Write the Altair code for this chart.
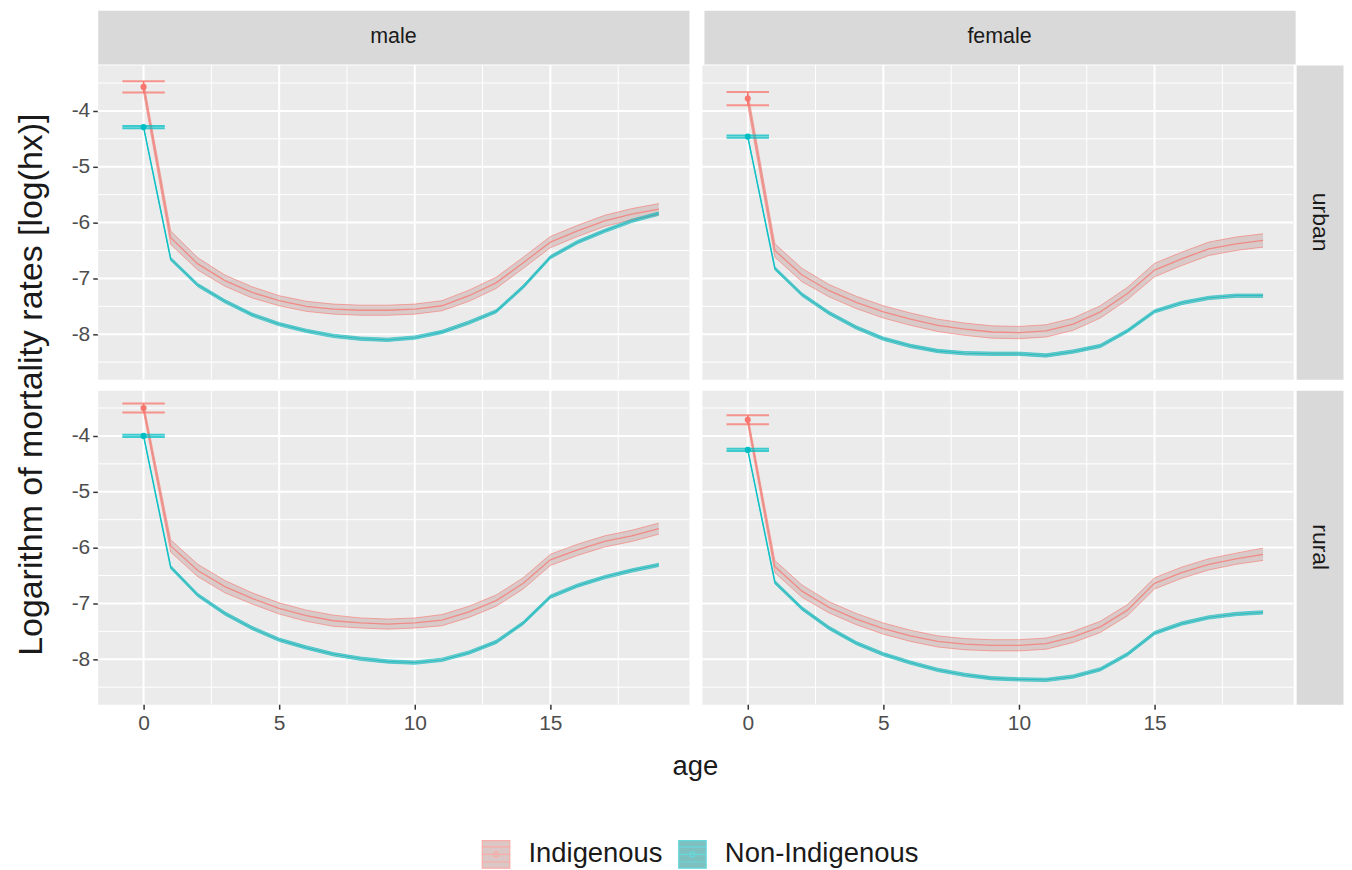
import altair as alt
import pandas as pd

# ---------------- data ----------------
AGES = list(range(20))
SEXES = ["male", "female"]
AREAS = ["urban", "rural"]
GROUPS = ["Indigenous", "Non-Indigenous"]

# mean log(hx), ages 0..19
MALE_URBAN_IND = [-3.57, -6.27, -6.74, -7.04, -7.25, -7.40, -7.50, -7.55, -7.57, -7.57,
                  -7.55, -7.49, -7.31, -7.08, -6.72, -6.35, -6.15, -5.97, -5.85, -5.76]
MALE_URBAN_NON = [-4.29, -6.65, -7.12, -7.41, -7.65, -7.82, -7.94, -8.03, -8.08, -8.10,
                  -8.06, -7.96, -7.79, -7.59, -7.15, -6.62, -6.35, -6.15, -5.97, -5.84]
FEMALE_URBAN_IND = [-3.78, -6.50, -6.94, -7.22, -7.43, -7.60, -7.73, -7.84, -7.91, -7.96,
                    -7.97, -7.94, -7.82, -7.60, -7.27, -6.85, -6.65, -6.47, -6.38, -6.32]
FEMALE_URBAN_NON = [-4.46, -6.82, -7.29, -7.62, -7.88, -8.08, -8.21, -8.30, -8.34, -8.35,
                    -8.35, -8.38, -8.31, -8.21, -7.94, -7.59, -7.44, -7.35, -7.31, -7.31]
MALE_RURAL_IND = [-3.50, -5.97, -6.41, -6.70, -6.91, -7.09, -7.22, -7.31, -7.35, -7.37,
                  -7.35, -7.30, -7.15, -6.95, -6.64, -6.22, -6.04, -5.89, -5.79, -5.66]
MALE_RURAL_NON = [-4.00, -6.35, -6.85, -7.18, -7.44, -7.65, -7.79, -7.91, -7.99, -8.04,
                  -8.06, -8.01, -7.88, -7.69, -7.35, -6.88, -6.68, -6.53, -6.41, -6.31]
FEMALE_RURAL_IND = [-3.71, -6.34, -6.78, -7.07, -7.28, -7.45, -7.58, -7.68, -7.73, -7.75,
                    -7.75, -7.72, -7.60, -7.42, -7.12, -6.64, -6.45, -6.30, -6.20, -6.12]
FEMALE_RURAL_NON = [-4.25, -6.62, -7.09, -7.44, -7.71, -7.91, -8.06, -8.19, -8.28, -8.34,
                    -8.36, -8.37, -8.31, -8.18, -7.91, -7.53, -7.36, -7.25, -7.19, -7.16]

# half width of the confidence band, ages 0..19
MALE_URBAN_IND_HW = [0.10, 0.12, 0.11, 0.10, 0.10, 0.09, 0.09, 0.09, 0.09, 0.09,
                     0.09, 0.09, 0.10, 0.10, 0.10, 0.10, 0.10, 0.10, 0.10, 0.10]
FEMALE_URBAN_IND_HW = [0.12, 0.12, 0.12, 0.11, 0.11, 0.11, 0.11, 0.11, 0.11, 0.11,
                       0.11, 0.11, 0.11, 0.11, 0.11, 0.12, 0.12, 0.12, 0.12, 0.12]
MALE_RURAL_IND_HW = [0.08, 0.11, 0.11, 0.11, 0.10, 0.10, 0.10, 0.10, 0.09, 0.09,
                     0.09, 0.10, 0.10, 0.10, 0.10, 0.10, 0.10, 0.10, 0.10, 0.10]
FEMALE_RURAL_IND_HW = [0.08, 0.11, 0.11, 0.10, 0.10, 0.10, 0.10, 0.10, 0.10, 0.10,
                       0.10, 0.10, 0.10, 0.10, 0.10, 0.10, 0.10, 0.10, 0.10, 0.11]
NON_HW = [0.02, 0.03, 0.03, 0.03, 0.03, 0.03, 0.03, 0.03, 0.03, 0.03,
          0.03, 0.03, 0.03, 0.03, 0.03, 0.03, 0.03, 0.03, 0.03, 0.03]

X_TICKS = [0, 5, 10, 15]
X_MINOR = [2.5, 7.5, 12.5, 17.5]
Y_TICKS = [-8, -7, -6, -5, -4]
Y_MINOR = [-8.5, -7.5, -6.5, -5.5, -4.5, -3.5]
YTITLE = "Logarithm of mortality rates [log(hx)]"
XTITLE = "age"

SERIES = {
    ("male", "urban"): (MALE_URBAN_IND, MALE_URBAN_IND_HW, MALE_URBAN_NON, NON_HW),
    ("female", "urban"): (FEMALE_URBAN_IND, FEMALE_URBAN_IND_HW, FEMALE_URBAN_NON, NON_HW),
    ("male", "rural"): (MALE_RURAL_IND, MALE_RURAL_IND_HW, MALE_RURAL_NON, NON_HW),
    ("female", "rural"): (FEMALE_RURAL_IND, FEMALE_RURAL_IND_HW, FEMALE_RURAL_NON, NON_HW),
}

rows = []
for (sex, area), (ind, ind_hw, non, non_hw) in SERIES.items():
    for g, m, hw in ((GROUPS[0], ind, ind_hw), (GROUPS[1], non, non_hw)):
        for a, v, h in zip(AGES, m, hw):
            rows.append({"sex": sex, "area": area, "group": g, "age": a,
                         "mean": v, "lo": v - h, "hi": v + h})
df = pd.DataFrame(rows)

# ---------------- styling ----------------
FONT = "Liberation Sans"
PW, PH = 593, 315
SP_X, SP_Y = 9, 7          # layout spacing (panels' bounds add ~2px per side)
SP_STRIP, SP_TOP = 0, -3
STRIP_H, STRIP_W = 54, 47
TITLE_W = 34
TITLE_GAP = 20
PANEL_BG = "#EBEBEB"
STRIP_BG = "#D9D9D9"
LINE_COLORS = ["#F8766D", "#00BFC4"]
FILL_COLORS = ["#c4a29f", "#2a9597"]
TICK_FONT = 21

LEGEND_PATH = ("M-1,-1H1V1H-1Z M-1,-0.55H1 M-1,0.55H1 M-1,0H1 "
               "M-0.18,0A0.18,0.18,0,1,1,0.18,0A0.18,0.18,0,1,1,-0.18,0")
legend = alt.Legend(orient="none", legendX=468, legendY=832, direction="horizontal",
                    title=None, symbolType=LEGEND_PATH, symbolSize=760,
                    symbolStrokeWidth=1.2, labelFontSize=27.5, labelFont=FONT,
                    labelColor="#1a1a1a", columnPadding=13, labelOffset=18,
                    labelLimit=500)

xscale = alt.Scale(domain=[-1.69, 20.11], nice=False, zero=False)
yscale = alt.Scale(domain=[-8.805, -3.18], nice=False, zero=False)
stroke_scale = alt.Scale(domain=GROUPS, range=LINE_COLORS)
fill_scale = alt.Scale(domain=GROUPS, range=FILL_COLORS)
NOVIEW = alt.ViewBackground(fill="transparent", stroke="transparent")
MINUS_FIX = "replace(datum.label, '\u2212', '-')"


def stroke_enc():
    return alt.Stroke("group:N", scale=stroke_scale, legend=legend)


def pad_axis_layer():
    """Invisible y axis with the same label width as the panels' axis, for alignment."""
    return alt.Chart(pd.DataFrame({"mean": [Y_TICKS[2]]})).mark_point(opacity=0).encode(
        y=alt.Y("mean:Q", scale=alt.Scale(domain=[Y_TICKS[1], Y_TICKS[3]]),
                axis=alt.Axis(values=[Y_TICKS[2]], title=None, labelOpacity=0,
                              tickOpacity=0, labelExpr=MINUS_FIX))
    )


def panel(sex, area, show_x, show_y):
    d = df[(df.sex == sex) & (df.area == area)]
    d0 = d[d.age == 0]

    xaxis = alt.Axis(values=X_TICKS, title=None, format="d") if show_x else None
    yaxis = alt.Axis(values=Y_TICKS, title=None, labelExpr=MINUS_FIX) if show_y else None

    def X(f):
        return alt.X(f, scale=xscale, axis=xaxis)

    def Y(f):
        return alt.Y(f, scale=yscale, axis=yaxis)

    gx_minor = alt.Chart(pd.DataFrame({"age": X_MINOR})).mark_rule(
        color="white", strokeWidth=1).encode(x=X("age:Q"))
    gy_minor = alt.Chart(pd.DataFrame({"mean": Y_MINOR})).mark_rule(
        color="white", strokeWidth=1).encode(y=Y("mean:Q"))
    gx_major = alt.Chart(pd.DataFrame({"age": X_TICKS})).mark_rule(
        color="white", strokeWidth=2).encode(x=X("age:Q"))
    gy_major = alt.Chart(pd.DataFrame({"mean": Y_TICKS})).mark_rule(
        color="white", strokeWidth=2).encode(y=Y("mean:Q"))

    base = alt.Chart(d)
    band = base.mark_area(fillOpacity=0.45, strokeWidth=0).encode(
        x=X("age:Q"), y=Y("lo:Q"), y2="hi:Q",
        fill=alt.Fill("group:N", scale=fill_scale, legend=legend),
    )
    edge_lo = base.mark_line(strokeWidth=1, opacity=0.6).encode(
        x=X("age:Q"), y=Y("lo:Q"), stroke=stroke_enc())
    edge_hi = base.mark_line(strokeWidth=1, opacity=0.6).encode(
        x=X("age:Q"), y=Y("hi:Q"), stroke=stroke_enc())
    center = base.mark_line(strokeWidth=1.3, opacity=0.75).encode(
        x=X("age:Q"), y=Y("mean:Q"), stroke=stroke_enc())

    base0 = alt.Chart(d0)
    cap_lo = base0.mark_tick(orient="horizontal", size=41, thickness=0.5, filled=False,
                             strokeWidth=1.6, opacity=0.75).encode(
        x=X("age:Q"), y=Y("lo:Q"), stroke=stroke_enc())
    cap_hi = base0.mark_tick(orient="horizontal", size=41, thickness=0.5, filled=False,
                             strokeWidth=1.6, opacity=0.75).encode(
        x=X("age:Q"), y=Y("hi:Q"), stroke=stroke_enc())
    bar = base0.mark_rule(strokeWidth=1.5).encode(
        x=X("age:Q"), y=Y("lo:Q"), y2="hi:Q", stroke=stroke_enc())
    dot = base0.mark_point(size=10, strokeWidth=3, filled=False, opacity=1).encode(
        x=X("age:Q"), y=Y("mean:Q"), stroke=stroke_enc())
    return alt.layer(gx_minor, gy_minor, gx_major, gy_major, band, edge_lo, edge_hi,
                     center, cap_lo, cap_hi, bar, dot).properties(
        width=PW, height=PH, view=alt.ViewBackground(fill=PANEL_BG, stroke="transparent"))


def text_chart(label, w, h, angle=0, size=21.5, fill=STRIP_BG, pad_axis=False):
    t = alt.Chart(pd.DataFrame({"label": [label]})).mark_text(
        angle=angle, fontSize=size, font=FONT, color="#1a1a1a",
        baseline="middle", align="center").encode(text="label:N")
    view = alt.ViewBackground(fill=fill, stroke="transparent")
    if pad_axis:
        return alt.layer(t, pad_axis_layer()).properties(width=w, height=h, view=view)
    return t.properties(width=w, height=h, view=view)


def spacer(w, h):
    return alt.Chart(pd.DataFrame({"label": [""]})).mark_text().encode(
        text="label:N").properties(width=w, height=h, view=NOVIEW)


# top strips row
top = alt.hconcat(
    spacer(TITLE_W, STRIP_H),
    alt.hconcat(text_chart(SEXES[0], PW, STRIP_H, pad_axis=True),
                text_chart(SEXES[1], PW, STRIP_H), spacing=SP_X + 4),
    spacing=TITLE_GAP)

row_u = alt.hconcat(
    alt.hconcat(panel("male", "urban", False, True), panel("female", "urban", False, False),
                spacing=SP_X),
    text_chart(AREAS[0], STRIP_W, PH, angle=90, size=23), spacing=SP_STRIP)
row_r = alt.hconcat(
    alt.hconcat(panel("male", "rural", True, True), panel("female", "rural", True, False),
                spacing=SP_X),
    text_chart(AREAS[1], STRIP_W, PH, angle=90, size=23), spacing=SP_STRIP)

panels = alt.hconcat(
    text_chart(YTITLE, TITLE_W, 2 * PH + 11, angle=270, size=34, fill="transparent"),
    alt.vconcat(row_u, row_r, spacing=SP_Y),
    spacing=TITLE_GAP)

bottom = alt.hconcat(
    spacer(TITLE_W, 40),
    text_chart(XTITLE, 2 * PW + 13, 40, size=27.5, fill="transparent", pad_axis=True),
    spacing=TITLE_GAP)

chart = alt.vconcat(alt.vconcat(top, panels, spacing=SP_TOP), bottom, spacing=12).properties(
    padding={"left": 6, "top": 0, "right": 0, "bottom": 0},
    background="white",
).configure(font=FONT).configure_view(stroke="transparent").configure_axis(
    labelFont=FONT, labelFontSize=TICK_FONT, labelColor="#4D4D4D",
    tickColor="#333333", tickSize=5, tickWidth=1.5, labelPadding=3,
    domain=False, grid=False,
)

chart.save("out.html", embed_options={"renderer": "svg", "actions": False})
